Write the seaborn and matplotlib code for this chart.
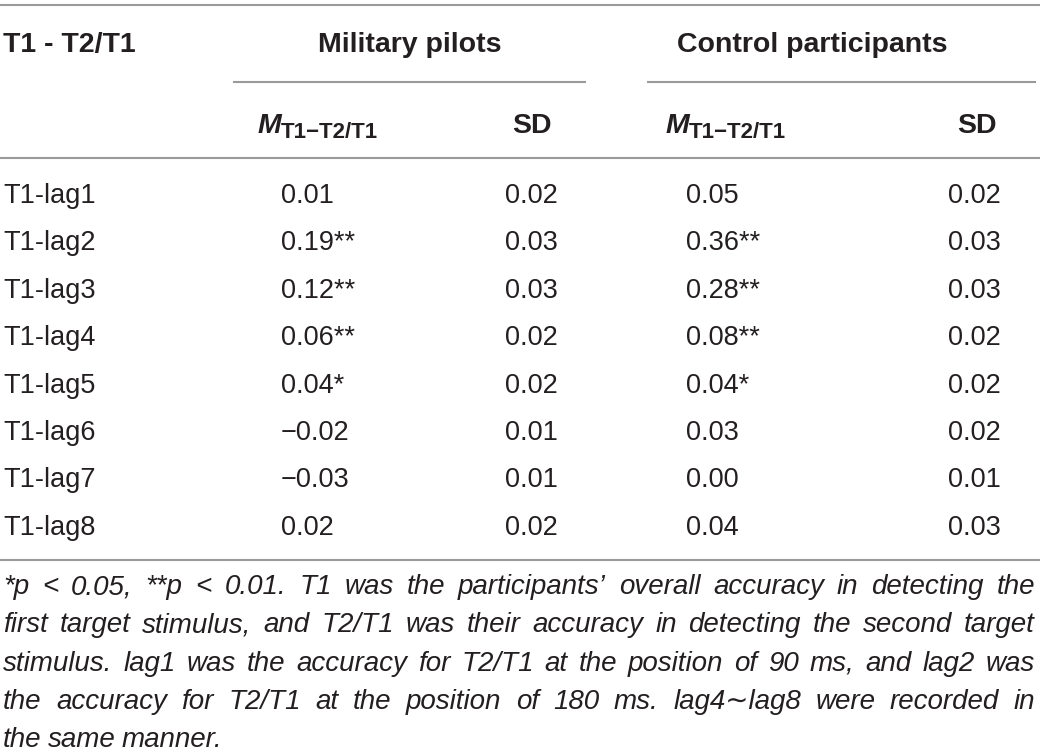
import matplotlib
matplotlib.use("Agg")
import matplotlib.pyplot as plt
import seaborn as sns

# table contents
row_labels = ["T1-lag1", "T1-lag2", "T1-lag3", "T1-lag4",
              "T1-lag5", "T1-lag6", "T1-lag7", "T1-lag8"]
pilots_m = [0.01, 0.19, 0.12, 0.06, 0.04, -0.02, -0.03, 0.02]
pilots_sig = ["", "**", "**", "**", "*", "", "", ""]
pilots_sd = [0.02, 0.03, 0.03, 0.02, 0.02, 0.01, 0.01, 0.02]
control_m = [0.05, 0.36, 0.28, 0.08, 0.04, 0.03, 0.00, 0.04]
control_sig = ["", "**", "**", "**", "*", "", "", ""]
control_sd = [0.02, 0.03, 0.03, 0.02, 0.02, 0.02, 0.01, 0.03]

corner_label = "T1 - T2/T1"
group_labels = ["Military pilots", "Control participants"]
sub_label = "T1\u2212T2/T1"
footnote = [
    "*p < 0.05, **p < 0.01. T1 was the participants\u2019 overall accuracy in detecting the",
    "first target stimulus, and T2/T1 was their accuracy in detecting the second target",
    "stimulus. lag1 was the accuracy for T2/T1 at the position of 90 ms, and lag2 was",
    "the accuracy for T2/T1 at the position of 180 ms. lag4\u223clag8 were recorded in",
    "the same manner.",
]

sns.set_theme(style="white")
plt.rcParams["font.family"] = ["Liberation Sans", "DejaVu Sans"]

TXT = "#231f20"
RULE = "#9a9a9a"

fig = plt.figure(figsize=(10.4, 7.54), dpi=100)
ax = fig.add_axes([0, 0, 1, 1])
ax.set_xlim(0, 1040)
ax.set_ylim(754, 0)
ax.axis("off")


def fmt(v):
    s = f"{abs(v):.2f}"
    return ("\u2212" + s) if v < 0 else s


# rules
ax.hlines([5, 158, 560], 0, 1040, color=RULE, lw=1.5)
ax.hlines(82, 233, 586, color=RULE, lw=1.5)
ax.hlines(82, 647, 1036, color=RULE, lw=1.5)

# header
hkw = dict(fontsize=20.5, fontweight="bold", color=TXT, va="baseline")
ax.text(3, 52, corner_label, ha="left", **hkw)
ax.text(410, 52, group_labels[0], ha="center", **hkw)
ax.text(812, 52, group_labels[1], ha="center", **hkw)

fig.canvas.draw()
rend = fig.canvas.get_renderer()

for mx in [257, 665]:
    t = ax.text(mx, 133, "M", ha="left", fontsize=20.5, fontweight="bold",
                fontstyle="italic", color=TXT, va="baseline")
    w = t.get_window_extent(rend).width
    ax.text(mx + w, 138, sub_label, ha="left", fontsize=16,
            fontweight="bold", color=TXT, va="baseline")
ax.text(532, 133, "SD", ha="center", **hkw)
ax.text(977, 133, "SD", ha="center", **hkw)

# body rows
bkw = dict(fontsize=19.5, color=TXT, va="baseline", ha="left")
for i, lab in enumerate(row_labels):
    y = 203 + i * 47.4
    ax.text(3, y, lab, **bkw)
    ax.text(281, y, fmt(pilots_m[i]) + pilots_sig[i], **bkw)
    ax.text(505, y, fmt(pilots_sd[i]), **bkw)
    ax.text(686, y, fmt(control_m[i]) + control_sig[i], **bkw)
    ax.text(948, y, fmt(control_sd[i]), **bkw)

# justified footnote
fkw = dict(fontsize=20, fontstyle="italic", color=TXT, va="baseline", ha="left")
x0, x1 = 3, 1035
for j, line in enumerate(footnote):
    y = 594 + j * 38.3
    words = line.split(" ")
    widths = []
    for wd in words:
        t = ax.text(0, 0, wd, **fkw)
        widths.append(t.get_window_extent(rend).width)
        t.remove()
    if j == len(footnote) - 1:
        gap = 6
    else:
        gap = (x1 - x0 - sum(widths)) / (len(words) - 1)
    x = x0
    for wd, w in zip(words, widths):
        ax.text(x, y, wd, **fkw)
        x += w + gap

fig.savefig("out.png", dpi=100)
